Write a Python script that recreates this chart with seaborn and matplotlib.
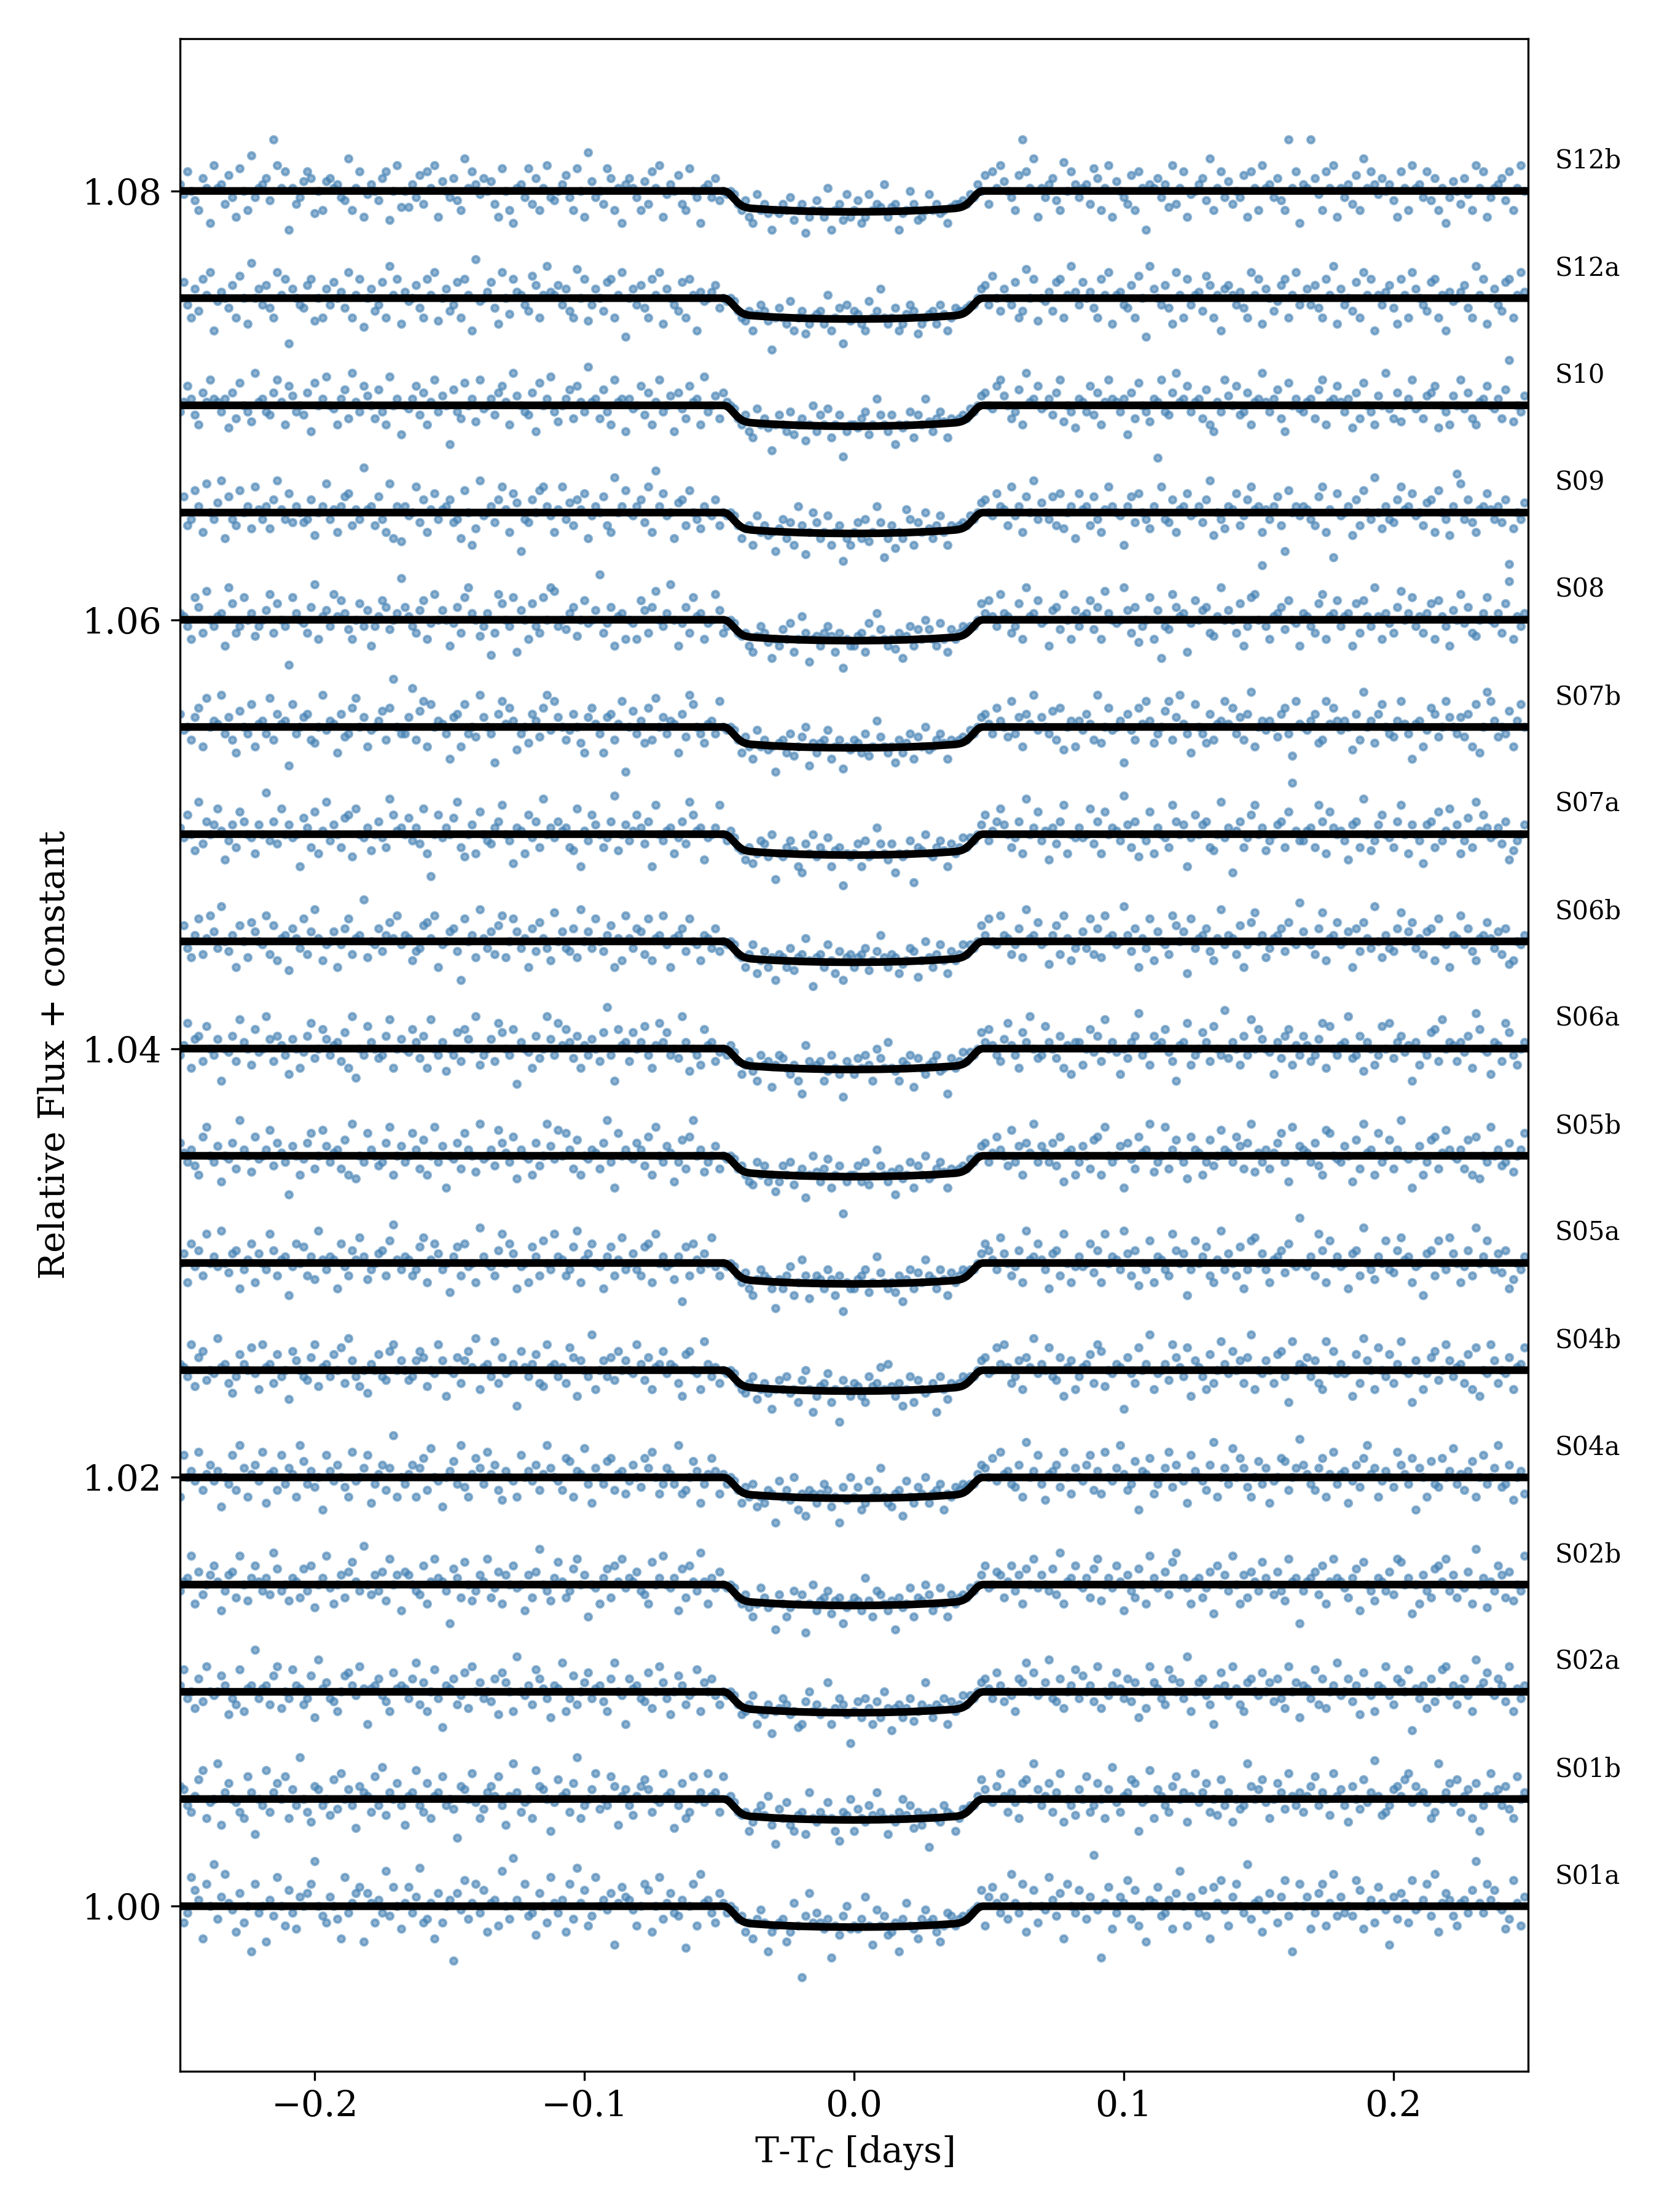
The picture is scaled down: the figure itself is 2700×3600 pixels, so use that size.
import numpy as np
import matplotlib.pyplot as plt
import seaborn as sns

# Each letter is one 2-min cadence point, read left to right from T-Tc = -0.25 d.
# Value relative to the row's baseline = (LETTER - 'N') * FLUX_STEP,
# a lower-case letter sits half a step above its upper-case one; spaces are ignored.
FLUX_STEP = 3.0e-4
T_START = -0.25
CADENCE = 2.0 / 1440
OFFSET_STEP = 0.005

S01a = ("NkMrpOIqNt LoSnmJPkNG qMNhOlrNKp MjoNPqUNlk oNLIrMnPQh PnkOMslQNj"
        "nQMoTkLnIP kNOePmRLnq MpJnOKsNLu ONqlMiPNkr nMOJqLTnpK lrNOmPHnQo"
        "OmKNqpJNrL nPMlOgNqKS nOMkPnMNmL lJkILmkGJK kLhJnKClPk MkjLFKilNj"
        "KjLoKHmKli JkGLnKjILm kLJhKMlKLl LMmNpKoQnM oLSnMqJNpk NmrOlPIqNM"
        "pNLoVmFnQj MonRLpKNhO nQlMOjPsNK oNMplIQnRm KoqNMtLnOJ mPNkoRlGNq"
        "NojMPqKnSl oMNlRpjNOk QnmHoLPnkR mNOqlSJnPO lKnOMpUnMq OpNmjLRnKo")
S01b = ("PoMLnQrKmN sJOpNmLKqO hNMrLOpNqK oMtNLjPoMN kQlRNoMiPO nLqMSkONpM"
        "JnOrMLpKnO qMNlHPoNRm KlOPnqMJns OLmNKrPoNI mQnOLptKMN oRlNMqPJno"
        "MknPQoLNmR nOiMpKLqNO mRnOLqNnmL kLIjLMknJG lKmJIkLhOK jLKmKIgLkN"
        "IlKjMkOLKh KjLNkMiLJk fLKjMLkIKl lMMnQoNmPR nLOmKpQNso MnpLORjNMk"
        "oNqLMpNKoS mLnOQpImNr KonMLPqNOj nRmOpLNkQM OjNlMsPNoQ mKNpOlRnMO"
        "LnPqMONkRn oMjPNlQmOT nkLMoPnQRm PnOmKLsNOp mQLnoKpIMn RnoMPlKqNO")
S02a = ("OqMNkPlRNm NpOjMLqKnO tMnOLpRkNM qOnLMpJSno MlKNpQOmRn InOPmlKQnO"
        "nMPrLoKNqM hOnPLmQkRN oMNlPjQoNK sNmOLqPnMJ OnrKMpLNoQ MnOlKPrNmI"
        "PnOMlQkNRo MjNpOLmNqK oNPmLNmNmL jKLmIKjLgK kMLjKhIlNK LjKoIkMLjF"
        "KlJMkIlJNk HkLJkMiKLo kJLkMIlKLm LmMNoPnMQO lNmKPorNQm NoSMlPkNOq"
        "MpNOlRkNmO QnMPloJNkR onMLqPNoMs KNoPmLInQO mRnLKoPNmQ NolPMkRNoJ"
        "OnMqLPkNOr mNPlOjQNmK OnRmLPoNqH nMOkPlNqRm OLnPmKSnoQ NmPOlRKnMO")
S02b = ("MnOrKPlNoQ nJMoPLrNkO QnMOlSpMNk OnLpMQjNOr mKNoLPqnMT NloMPkRNoJ"
        "PoNMlQKnRO nMHpOLqNkM onRLmPKoNQ mNJoLPsNMk OqnLMpRNoI NmKOpLQnRm"
        "OnPMlKqNOr NmOJpLQnMS nKOmPNmNmL KljIKmLjKG lKIjMKlfKN JkLMikLHjK"
        "LkJOkIMlKJ kGLjKmILkN lJKmKIlKLl LmMNoQmNPo LnQMoKpNRm oNMplSKnOQ"
        "NmOLpRkNOm QnJoMLpNKr OmNPlqSNOm KnOLmPiQNo MrNKoLPnMq ONlPMkRnOH"
        "MnOPlQKnRO nmLOpJqNMk OnMPlRqNOi NKoMLpQnRM oLNmPKsNOj nMQoLPkNMr")
S04a = ("KqNOmRLnPm OiNMqLSoKn PmRJnOLqMo nKSpMOlNIq OmPNlKRmNo qJMnPLotKN"
        "MnPKoQLrNm iNOpMSlKnQ oMRnPLjONm KqNOmPLnSo NmLQpKOnrM JoNMpQLnOk"
        "mPNlQoRNkM onMSkLNpOJ MnQOknMNmL JlKMiKJLkG mKLjNIkHLk JkMLiKGljN"
        "KlIJmKLoKJ ikLHmKJlkN JkLMIkKlLM lMMnPoNQmR nOMlPKsNOq MjnOPlRNko"
        "NmPqLOkRNm oSnLMpIOnQ kMNoRlPNmJ qONmLPsKNo MrNQolKNpM oJmNQpLNoT"
        "PnMLoQKnRM nOJmPlQSno KmONlRPnMQ IoNKpMlQNO rMnLOpKNqM NoSlMPjNOk")
S04b = ("OnMRkPQlNm SnOLjMpONq mKRnOLpMNi QoNMlPRknO MpNqLSoMkN jONpMlQRNo"
        "NlMoQPkNmR oJNmPLoQnS KnOMrLPmNO hQnMOpLkRn OMnLqPJoNM sKNoMPlQNo"
        "NmROlPKnOQ mOnLJpQNmK rOMnLNmNmL KjLMiKLjHK lKMjKIlNKg JkLmIKFlKJ"
        "LkJIMkLnKO kJLhKMIlKj KLgMKiLkLM lMMNoPmNqO RnLMoKPnSm ONqMlPJnoK"
        "MnOpLRQkNm OnHPmLqNOs KmNOlRPnMq JonMKpLNrO mQNoLPsKNm oNLpQMIrNO"
        "nPMoLKrNQm OmNJpLSoNK qNMpLOrNmI oNKmPQlNRo MnOLpKqJNm RoLNmPKnOq")
S05a = ("NoKQmPLrNO mSNloPJMnQ KoNMrPLnOI mQNpLOkSnM OnJQmLPnRO kMNoPLqTnM"
        "OnLMpRKnQo MNiOpLQmNK sONmLPrNQo JmNKpOLqNM rOnLMpSKno QNmJOpLnRM"
        "NoMLpQKrNO mNkOHpLQnM oNRmLNmNmL KlJIkMLkJG kJLmIKnLhK LkJMkILfKJ"
        "JkLMiKOlKJ KiLHkMJlKn LkJMkIlKLM lMMNoQPnMR oNLmPKSnOQ nMJoPLrNKm"
        "OmNQlPKrNO nMSoLPjNMq KOnMLrPNoI MqNOpLKnSM oNLpJMqRNo MKnOPlQNmU"
        "NmOLrPKqNO mNJoPLsNMk ONqMlPRnOK mNIoPLqNMR oNKmPLsNOq NMolPJkNMO")
S05b = ("PnMOlKQrNM oJNmPLsONk QmNORlPnMH oNKmPqLNRo MnOLpKSjNM qONlMPrKNo"
        "MNqOLpKNrM oINmPLqONk SmNOlRPnMQ jONmKPlNSo mRNqOLpKNm OnLPsMIqNO"
        "NmPOlQKrNM onJMpLQsNO kMNoLNmNmL lKJiMKlJKh JlKMiKLgKN kJLmIKlEJK"
        "KlJMiKOlKJ kHLjKMIlKN jKLMkILkLl LmMNoPMnQO NlRMoKPnSM onMPlQJnOK"
        "MoNLpQKrNM NoIPmLQnOS kMNrLOpNMj QOnKMplNRO nMQoLPSknM OLnPqMJrNo"
        "OnMPlKRqNm MoNJpLSnOK qMNpLOsNmI NoKMpQLnRO NmOLpKQjNM rNOlMPkNOq")
S06a = ("MnRKoPLqNM oINmPLrONk QmNSoLPnMJ oNKmPRlNQo MnOLpKSiNM qONlMPrKNo"
        "NmQOlPKrNM OjNMpLQoNS kMNoLRpNMQ hONmKPlNSo MRnQOlPKnM oNLptMIQnO"
        "LpNOqMKnRO pMNlSOjNMk QnOLmNMnmL JkLjIMkLHk MlKJkIGnLK kLIjMKJfLK"
        "JlKMkINlKO KjILkMHlKJ kLMjKGlKLm LmMNpOQnML oRnMKpOSNl MqONlPKnJO"
        "OkNQmPLrNO mJNlOPsMNk PnOQmLInOR kMNpOLqNMT lONkPMrNQo NmJOlPQknM"
        "PnLMoRKqNM nOSlMPjONk MqNRlOPmnI OkNMpQLrNO nLOmPKsQNm JOnLRpMkNO")
S06b = ("NpMkOqLnRo MsNlOJpNkQ oNmRLpKnOi PnMqLoSnKm NoJmPqLnOt kNmPlOQnRm"
        "OnKlMpQnRJ mNoPlHqNOk SnMoLpRkNq oMnJPlQnMK rNoMlPkSNo MqNlOpJnKR"
        "nMPoLqKnOR mJnOPlqNmK OnMPlNmNmL kJLmIKlJkH LkJMikLnKG kLJmKIlHkL"
        "JkLMiKlOkJ LkIjKMlhKN kJLmKIlKLm LmMNpOqNmR OnLmPkSnOQ mNjOpLRnKM"
        "NoMqLPkRnO mNsOlPJnMq KoNmLRpNoI qMnOPlKnSm OnLpJmQrNO kMnOPlQNmT"
        "oNmLPrKnOQ mNoJPlQnMs NkOMlPrNoQ MnLoPKqNmJ OnRmPlKnOQ nMoLPjKNmO")
S07a = ("OmQNkSlPNo RnJMoLqPNm KoNtMPlRNo mNIpOLqKnS MoNLpQjRNm OkNPmLsQnO"
        "NpMOlRKgNQ mONpSLjNoK qNMlOPrNMi OnKQmPLsNO mPnOLkRInM QoNLmPTkNo"
        "MnQOlPIrNM nOKmPlSQnO JmNOrNMnmL kJLiKMljNG KjLMkIHlKN jLKmIkLFKj"
        "KlIMjKOlKJ lHKjKMfLkN KjLMkIlKLm LmMNoQMnPR oNLmPKsNOq MnJOlPrKNm"
        "OmNRlPKqNO nMToLPjNMq KONmLrPNoI mQNoPLkNSm OHnPLmQrNO kMNoPLqVnM"
        "MnOLrPKqON nMJoPLsNkM oQNmLPrNKo NMioPLqMnR NoKMpLSnQO mNOlPJkMNo")
S07b = ("PmNLoQKrNO nSMoLJpNMq KnOMrLPnOH qMNoPLkNSm OnJPlMQrNo KmNOpLQuNM"
        "MoTLpRKqNO nMIoPKqMNl SoNMhPRnQO jMNkPOlQSm RoNLmPNkJo QnMJoPLnRG"
        "NpMOkQLrNo MOnJPlSqNM knOMRNmNmL JlKImKLjKG kLJMiKlNHk JkLmIKLgKj"
        "LkJMiKOlKJ KhLJkMIlKN jKLMkILkLl LmMNoPnMQO NlRMoKPnSm oNMpLQjNOK"
        "OmPnLSkNQm NOhPmLQnRO kMNpRLoSnM JqNMkPLnOR nQMoLPsKNO mONlPQMiRn"
        "NmOPkLRnQO mONjPLsNOk PqNMlORnMI nOKmQPlNRo NMolPKqJNs ROlNMpKOqN")
S08 = ("OnMKqPLrNM nOJSpLMqNO kMNoRLpNMG qONmLPsKno MRnQOlKNpM oJMnQPlNOt"
       "PnMLoQKmRN oNJmPLqSON kMOhLRpNMq IoNKpMLqNS rMNlOPkNQm NoULmPJnOK"
       "NmKQoLPrNM OsNJmPLqnO KmNRoLMNmL kLJIkMLjHK JlKmIKnLgK kJLMkILfKJ"
       "JkLImKOlKJ KiLHkMJlKN lKJmKIlKLM lMMNpOQnMR OnLMpKSnOQ mNJoPlRNKo"
       "MnOQlPKrON mNSoLPjMNq KoHMlRPnOI mQNoPLknSN oNLpJMqRNv MKnOPlQNmJ"
       "OnMLpRKnOQ MnOJpLQnMS nKOmLPrNOq MnLOpKQnMJ oNRmPLkNOq NmOLpTKnMO")
S09 = ("NpLMqOKrNM oSJpMLqNOk RnMOkPSnMQ lONlMPjNOr MnKOpQLnMU nOLpMKrJOi"
       "OmNRlPKnQM nOPlMJqNIk SmNOlPRnKQ oHMlPNqROm KnRMoLPnQJ mONpLKsNOq"
       "NmOPlRKtOQ mNJoPLqNMk ONmPLNmNmL JkLImKLjKH kMJlIOLgKN lJKmIKLfJI"
       "KlJMiKOlGJ LhKJnMIlKN kJLmKILkLl LmMNoPNmQO nLRmOKpNSM oNMpLQkNOJ"
       "QnOLpMKnRO NmIOplQNMk OvRMlPKnOQ mNOlPSjNMk OnQLmPRnOK nMOpLHqNOm"
       "OnMLpRKnGQ mNOjPLqNMs NkOMlPRnOQ mNLoPKqNMj OTrMPlKnOQ nMOlPFkNMo")
S10 = ("MnQOlKPnRO nMOjPLqNMk SnOMlPRnKQ oMNlPJqNOr NmKOpLSnMQ oNLpMKrNOi"
       "NmOQlPKnRM oNHpMLqNOk RmNOlPQnKS oNMlPJqNOr MkNOpLQnMT nOLpMKRnOJ"
       "OmNQlPKnRM NoJPmLQnOK rMNoLPnNmL KlJImKLjGK lKJMiKLhKN JlKmIKlFJK"
       "KjLMiKOlKJ lHKjKMIlKO kJLMkILkLl LmMNoPNmQR oNLMpKSnOQ mNOlPRkNMj"
       "OnMQlPKnRO nMOiPLqNMk OnRMlPSnOQ MnOLpKJnMR oNQlMPKnOS nMOpLJqNOm"
       "MnOLpRKnOQ nMOjPLqNMK oNSmLPkNOR mNLoPQjNMK oNRmPLKnOQ NmOLpUkNMo")
S12a = ("NpMKoLQnRI mONlPKqNJs NoMPlKRnQG oNMlPQjNKo MpNOlRKnQi NoLMpKSnQJ"
        "OmNPlKQnRj NoLMpKQnIT mNOplJRNkQ OnMLqPKnSO nPMoLKrNQj MoNLpQKnRH"
        "NoMPlKQnRJ oNMLpKQnIO mNOPlNmNmL KjLIkMLjFK lKJmIKLhJK kLJnIKlGMj"
        "LkJImKLoKJ KlIJkMLhJK kLJMkIKlLL lMMNoPMqNL oNMpKLrNQj NmOLpQKnSO"
        "MpNOlKQnRJ nOMlPKqNHS oNMPlJRnKQ MnOLqPKnIo PnMOlKRnQJ oNLmPQKnRM"
        "NoMPlKQnSJ oMNLpKRnQI nMOPlJQnKR oNMLpQKnIO mNOPlKSnQJ NoMLpQKnRO")
S12b = ("OmQNlKPnIR nOLpMJqNKs MnOPlVRnQH nLMoQPjNKo PnOMlSKnQJ mONlPQiNRk"
        "NkOMpLQnRJ oNMPlKSnQO mPNoLJqNKI nOMqLPKnRM lNOpMKqNJT oMNLqPKnIO"
        "PnMKoLQnRJ mONpLKqNMI nOMPlNmNmL KlJImKLjHK jLKMiKLgJK lKJnHKLimJ"
        "KlIJmKLkOJ kLHjKNLiJK mKLjKIkLLl LmMONpLQnR oNMKpVQnSJ nMOPlKrNQO"
        "MnOLqPKnRJ oNMLpKQnHO nPMOkRLnQJ mNOPlSKnQM oLNMpJQnKR nOMPlKVnQI"
        "OnVPmKQnRJ nMOLpKSnQO mPNOlJQnKR nOMQlPKnIM oNLPmKRnQJ MnOPlQKnRN")

ROW_NAMES = ["S01a", "S01b", "S02a", "S02b", "S04a", "S04b", "S05a", "S05b",
             "S06a", "S06b", "S07a", "S07b", "S08", "S09", "S10", "S12a", "S12b"]
ROW_CODES = [S01a, S01b, S02a, S02b, S04a, S04b, S05a, S05b,
             S06a, S06b, S07a, S07b, S08, S09, S10, S12a, S12b]

# transit model (same shape for every row)
MODEL_T = [-0.25, -0.0483, -0.0473, -0.0463, -0.0453, -0.0443, -0.0433, -0.0423,
           -0.0413, -0.0403, -0.0393, -0.0383, -0.0373, -0.030, -0.020, -0.010,
           -0.0003, 0.0094, 0.0194, 0.0294, 0.0367, 0.0377, 0.0387, 0.0397,
           0.0407, 0.0417, 0.0427, 0.0437, 0.0447, 0.0457, 0.0467, 0.0477, 0.25]
MODEL_DF = [0, 0, -0.00003, -0.00012, -0.00025, -0.00039, -0.00052, -0.00063,
            -0.00071, -0.00076, -0.00079, -0.00081, -0.00082, -0.00088, -0.000935,
            -0.000965, -0.000975, -0.000965, -0.000935, -0.00088, -0.00082,
            -0.00081, -0.00079, -0.00076, -0.00071, -0.00063, -0.00052, -0.00039,
            -0.00025, -0.00012, -0.00003, 0, 0]


def decode(codes):
    codes = codes.replace(" ", "")
    steps = [ord(c.upper()) - ord("N") + (0.5 if c.islower() else 0.0) for c in codes]
    df = np.array(steps) * FLUX_STEP
    t = T_START + CADENCE * np.arange(len(df))
    return t, df


sns.set_style("ticks", {"axes.edgecolor": "black", "text.color": "black",
                        "axes.labelcolor": "black", "xtick.color": "black",
                        "ytick.color": "black"})
plt.rcParams["font.family"] = ["DejaVu Serif"]
plt.rcParams["axes.linewidth"] = 0.8

fig = plt.figure(figsize=(9, 12), dpi=300)
ax = fig.add_axes([0.1085, 0.0636, 0.8126, 0.9189])

for i, (name, codes) in enumerate(zip(ROW_NAMES, ROW_CODES)):
    off = 1.0 + i * OFFSET_STEP
    t, df = decode(codes)
    sns.scatterplot(x=t, y=off + df, s=7, color="steelblue", edgecolor="steelblue",
                    linewidth=1.0, alpha=0.6, ax=ax, zorder=1, legend=False)
    sns.lineplot(x=MODEL_T, y=off + np.array(MODEL_DF), color="black", lw=3,
                 estimator=None, sort=False, ax=ax, zorder=2)
    ax.text(0.26, off + 0.0014, name, fontsize=10, ha="left", va="center")

ax.set_xlim(-0.25, 0.25)
ax.set_ylim(0.9923, 1.0871)
ax.set_xticks([-0.2, -0.1, 0.0, 0.1, 0.2])
ax.set_yticks([1.00, 1.02, 1.04, 1.06, 1.08])
ax.set_yticklabels([f"{v:.2f}" for v in [1.00, 1.02, 1.04, 1.06, 1.08]])
ax.tick_params(labelsize=14, length=3.5, width=0.8, direction="out")
ax.set_xlabel("T-T$_C$ [days]", fontsize=14)
ax.set_ylabel("Relative Flux + constant", fontsize=14)

fig.savefig("out.png", dpi=300)
